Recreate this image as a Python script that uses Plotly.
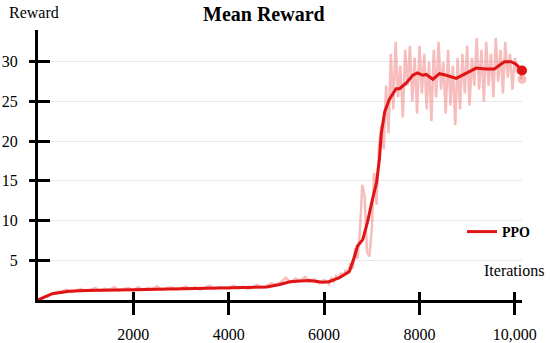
import plotly.graph_objects as go

# ---------------- data ----------------
raw_iter_early = list(range(0, 6001, 100))
raw_reward_early = [0.0, 0.3, 0.6, 0.8, 1.0, 1.1, 1.3, 1.0, 1.2, 1.4,
                    1.1, 1.3, 1.5, 1.2, 1.4, 1.3, 1.6, 1.2, 1.4, 1.5,
                    1.2, 1.6, 1.3, 1.5, 1.4, 1.7, 1.3, 1.5, 1.6, 1.3,
                    1.5, 1.7, 1.4, 1.6, 1.3, 1.5, 1.8, 1.4, 1.6, 1.5,
                    1.4, 1.8, 1.5, 1.7, 1.4, 1.6, 1.9, 1.6, 1.8, 2.1,
                    1.9, 2.3, 2.8, 2.2, 2.7, 2.4, 2.9, 2.3, 2.6, 2.1, 2.5]
raw_iter_late = list(range(6050, 10151, 50))
raw_reward_late = [2.4, 2.0, 2.7, 2.3, 3.0, 2.6, 3.4, 2.9, 3.8, 3.2,
                   4.6, 3.9, 6.5, 5.2, 8.5, 14.5, 13.0, 6.0, 5.5, 9.0,
                   16.0, 12.0, 19.5, 22.0, 19.0, 27.0, 21.0, 31.0, 24.0, 32.5,
                   25.5, 29.5, 23.0, 31.5, 27.0, 32.0, 25.0, 30.5, 23.5, 32.0,
                   26.0, 31.0, 24.0, 30.0, 22.5, 31.5, 25.5, 32.5, 26.5, 30.0,
                   23.5, 31.5, 24.5, 29.5, 22.0, 30.5, 24.0, 31.0, 26.0, 32.0,
                   24.5, 30.5, 27.0, 33.0, 26.5, 31.5, 25.0, 32.5, 27.0, 31.0,
                   25.5, 33.0, 27.5, 31.5, 26.0, 32.5, 28.0, 31.0, 26.5, 30.5,
                   28.5, 29.5, 27.8]
raw_iter = raw_iter_early + raw_iter_late
raw_reward = raw_reward_early + raw_reward_late

smooth_iter = [0, 100, 300, 650, 1000, 2000, 3000, 3500, 4000, 4500, 4800,
               5070, 5280, 5500, 5700, 5970, 6100, 6320, 6530, 6640, 6700,
               6810, 6910, 7015, 7100, 7160, 7200, 7270, 7370, 7510, 7580,
               7720, 7790, 7860, 7960, 8070, 8140, 8280, 8420, 8560, 8770,
               8980, 9190, 9400, 9570, 9780, 9920, 10025, 10150]
smooth_reward = [0.0, 0.3, 0.8, 1.1, 1.2, 1.3, 1.4, 1.45, 1.5, 1.55, 1.65,
                 1.95, 2.3, 2.4, 2.45, 2.25, 2.3, 2.8, 3.6, 5.5, 6.8,
                 7.6, 9.8, 12.7, 14.8, 17.7, 21.0, 23.7, 25.3, 26.6, 26.6,
                 27.3, 27.8, 28.3, 28.6, 28.3, 28.4, 27.8, 28.5, 28.3, 27.9,
                 28.5, 29.2, 29.1, 29.1, 30.0, 30.0, 29.7, 28.9]

x_ticks = [2000, 4000, 6000, 8000, 10000]
x_tick_labels = ["2000", "4000", "6000", "8000", "10,000"]
y_ticks = [5, 10, 15, 20, 25, 30]
y_tick_labels = ["5", "10", "15", "20", "25", "30"]

FONT = "Liberation Serif, Times New Roman, serif"
RED = "#e01414"
PINK = "rgba(235,80,80,0.38)"

# plot-area geometry (pixels) used to place free text
L, R, T, B = 38, 28, 30, 43
PW, PH = 550 - L - R, 343 - T - B


def px(xp):
    return (xp - L) / PW


def py(yp):
    return (343 - B - yp) / PH


fig = go.Figure()
fig.add_trace(go.Scatter(x=raw_iter, y=raw_reward, mode="lines",
                         line=dict(color=PINK, width=2.5),
                         showlegend=False, hoverinfo="skip"))
fig.add_trace(go.Scatter(x=smooth_iter, y=smooth_reward, mode="lines",
                         line=dict(color=RED, width=3), name="PPO"))
fig.add_trace(go.Scatter(x=[raw_iter[-1]], y=[raw_reward[-1]], mode="markers",
                         marker=dict(color=PINK, size=9),
                         showlegend=False, cliponaxis=False))
fig.add_trace(go.Scatter(x=[smooth_iter[-1]], y=[smooth_reward[-1]], mode="markers",
                         marker=dict(color=RED, size=10),
                         showlegend=False, cliponaxis=False))
# invisible trace on overlay axes (for inner tick halves)
fig.add_trace(go.Scatter(x=[smooth_iter[0]], y=[smooth_reward[0]], xaxis="x2", yaxis="y2",
                         mode="markers", marker=dict(opacity=0), showlegend=False,
                         hoverinfo="skip"))

fig.update_layout(
    width=550, height=343,
    margin=dict(l=L, r=R, t=T, b=B, autoexpand=False),
    plot_bgcolor="white", paper_bgcolor="white",
    font=dict(family=FONT, size=16, color="black"),
    xaxis=dict(range=[0, 10150], showgrid=False, zeroline=False, automargin=False,
               showline=True, linecolor="black", linewidth=3,
               ticks="outside", ticklen=12, tickwidth=3, tickcolor="black",
               tickvals=x_ticks, ticktext=x_tick_labels,
               tickfont=dict(family=FONT, size=16), ticklabelstandoff=6),
    yaxis=dict(range=[0, 34], showgrid=True, gridcolor="#e8e8e8", gridwidth=1,
               zeroline=False, showline=True, linecolor="black", linewidth=3,
               automargin=False,
               ticks="outside", ticklen=6, tickwidth=3, tickcolor="black",
               tickvals=y_ticks, ticktext=y_tick_labels,
               tickfont=dict(family=FONT, size=16), ticklabelstandoff=8),
    xaxis2=dict(overlaying="x", matches="x", anchor="y", side="bottom",
                showgrid=False, zeroline=False, showline=False, automargin=False,
                ticks="inside", ticklen=8, tickwidth=3, tickcolor="black",
                tickvals=x_ticks, showticklabels=False),
    yaxis2=dict(overlaying="y", matches="y", anchor="x", side="left",
                showgrid=False, zeroline=False, showline=False, automargin=False,
                ticks="inside", ticklen=12, tickwidth=3, tickcolor="black",
                tickvals=y_ticks, showticklabels=False),
    legend=dict(x=px(462), y=py(232), xanchor="left", yanchor="middle",
                bgcolor="rgba(0,0,0,0)",
                font=dict(family=FONT, size=14, color="black", weight="bold")),
    annotations=[
        dict(text="<b>Mean Reward</b>", x=px(264), y=py(14),
             xref="paper", yref="paper", showarrow=False,
             xanchor="center", yanchor="middle", font=dict(family=FONT, size=20)),
        dict(text="Reward", x=px(34), y=py(12),
             xref="paper", yref="paper", showarrow=False,
             xanchor="center", yanchor="middle", font=dict(family=FONT, size=16)),
        dict(text="Iterations", x=px(514), y=py(270),
             xref="paper", yref="paper", showarrow=False,
             xanchor="center", yanchor="middle", font=dict(family=FONT, size=16)),
    ],
)

fig.write_html("out.html", config={"displayModeBar": False},
               post_script="document.body.style.margin='0';document.body.style.padding='0';")
